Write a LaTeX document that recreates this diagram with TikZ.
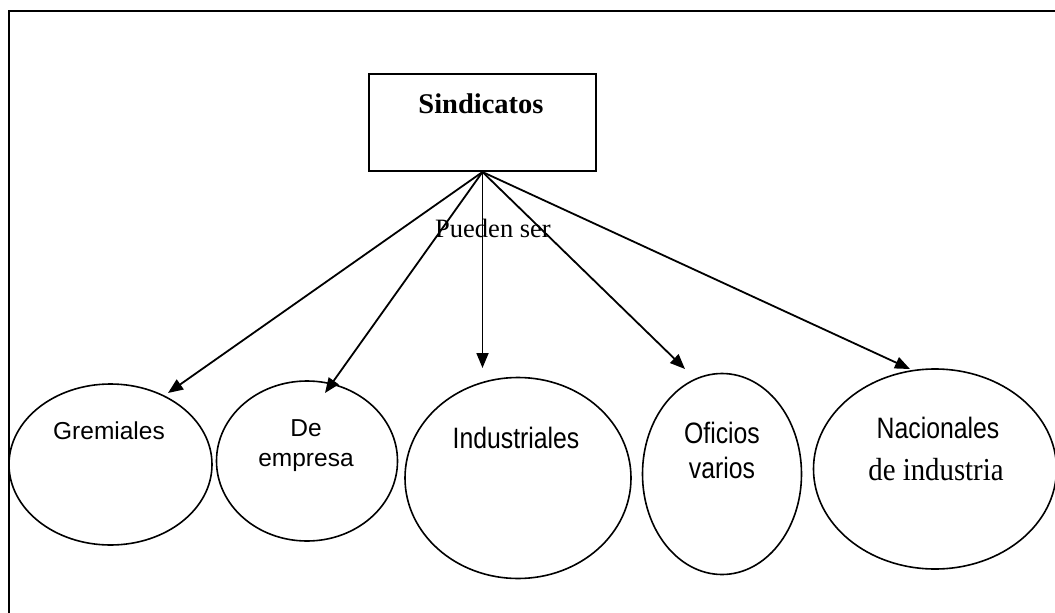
\documentclass[tikz,border=0pt]{standalone}
\usepackage{fontspec}
\setmainfont{Liberation Serif}
\newfontfamily\arialf{Liberation Sans}
\newfontfamily\arialn[FakeStretch=0.84]{Liberation Sans}
\newfontfamily\timesn[FakeStretch=0.9]{Liberation Serif}
\usetikzlibrary{shapes.geometric,arrows.meta}
\begin{document}
\begin{tikzpicture}[x=1pt,y=-1pt,
  oval/.style={draw,ellipse,line width=1.6pt,inner sep=0pt},
  conn/.style={line width=1.8pt,-{Triangle[length=15pt,width=12pt]}},
  lbl/.style={anchor=base,inner sep=0pt}]
\useasboundingbox (0,0) rectangle (1055,613);
\draw[line width=2.8pt] (1060,11) -- (9,11) -- (9,620);
% top box
\node[draw,line width=2pt,minimum width=227pt,minimum height=97pt,inner sep=0pt] (S) at (482.5,122.5) {};
\node[lbl,font=\fontsize{28.5}{30}\selectfont\bfseries] (St) at (481,113) {Sindicatos};
\node[lbl,font=\fontsize{26.5}{28}\selectfont] (P) at (493,237) {Pueden ser};
% ellipses
\node[oval,minimum width=203pt,minimum height=161pt] (G) at (110.5,464.5) {};
\node[oval,minimum width=181pt,minimum height=160pt] (D) at (307,461) {};
\node[oval,minimum width=226pt,minimum height=201pt] (I) at (518,478) {};
\node[oval,minimum width=159pt,minimum height=201pt] (O) at (722,474) {};
\node[oval,minimum width=243pt,minimum height=200pt] (N) at (935,469) {};
% texts
\node[lbl,font=\arialf\fontsize{24.5}{26}\selectfont] (Gt) at (109,439) {Gremiales};
\node[lbl,font=\arialf\fontsize{24.5}{26}\selectfont] (Dt1) at (306,436) {De};
\node[lbl,font=\arialf\fontsize{24.5}{26}\selectfont] (Dt2) at (306,466) {empresa};
\node[lbl,font=\arialn\fontsize{29.5}{30}\selectfont] (It) at (516,448) {Industriales};
\node[lbl,font=\arialn\fontsize{29.5}{30}\selectfont] (Ot1) at (722,443.5) {Oficios};
\node[lbl,font=\arialn\fontsize{29.5}{30}\selectfont] (Ot2) at (722,478) {varios};
\node[lbl,font=\arialn\fontsize{29.5}{30}\selectfont] (Nt1) at (938,438) {Nacionales};
\node[lbl,font=\timesn\fontsize{32}{34}\selectfont] (Nt2) at (936,480) {de industria};
% arrow tips
\coordinate (gT) at (168,393);
\coordinate (dT) at (325,393);
\coordinate (iT) at (482.5,368);
\coordinate (oT) at (685,369);
\coordinate (nT) at (910,369);
\draw[conn] (S.south) -- (gT);
\draw[conn] (S.south) -- (dT);
\draw[conn] (S.south) -- (iT);
\draw[conn] (S.south) -- (oT);
\draw[conn] (S.south) -- (nT);
\end{tikzpicture}
\end{document}
